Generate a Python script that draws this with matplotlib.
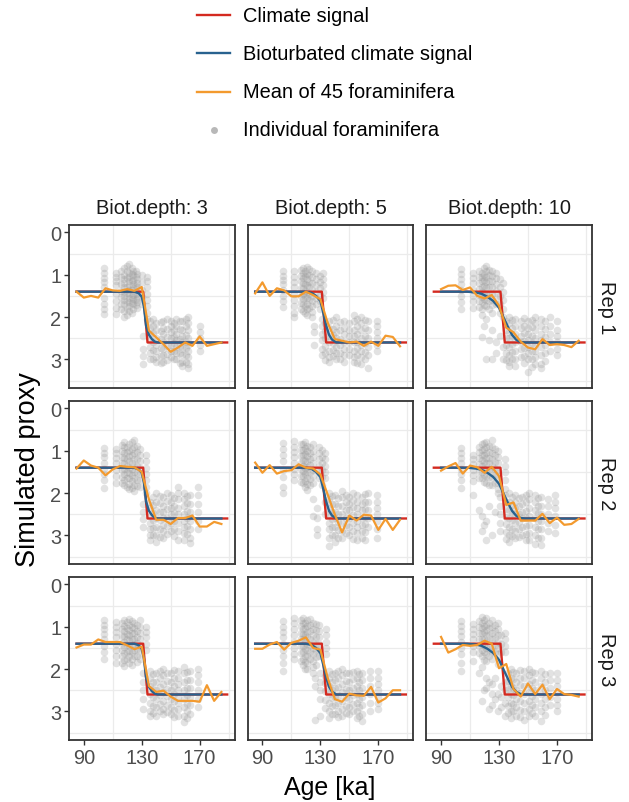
import matplotlib
matplotlib.use("Agg")
import matplotlib.pyplot as plt
from matplotlib.lines import Line2D

plt.rcParams['font.family'] = ['Liberation Sans', 'DejaVu Sans']

# ---- data ----
depths = [3, 5, 10]
reps = [1, 2, 3]

climate_age = [85, 131, 134, 189]
climate_val = [1.4, 1.4, 2.6, 2.6]

biot_age_d3 = [85, 125, 128, 130, 131.5, 133, 135, 137, 139, 141, 185]
biot_val_d3 = [1.4, 1.4, 1.44, 1.52, 1.75, 2.2, 2.42, 2.52, 2.58, 2.6, 2.6]
biot_age_d5 = [85, 120, 124, 127, 130, 132, 134, 136, 138, 141, 185]
biot_val_d5 = [1.4, 1.4, 1.43, 1.5, 1.62, 1.9, 2.2, 2.42, 2.53, 2.6, 2.6]
biot_age_d10 = [90, 108, 114, 118, 122, 126, 130, 133, 136, 139, 142, 145, 148, 185]
biot_val_d10 = [1.4, 1.4, 1.42, 1.45, 1.52, 1.62, 1.78, 2.0, 2.22, 2.42, 2.54, 2.59, 2.6, 2.6]

mean_age = [85, 90, 95, 100, 105, 110, 115, 120, 125, 130, 135,
            140, 145, 150, 155, 160, 165, 170, 175, 180, 185]
nan = float('nan')
mean_r1_d3 = [1.40, 1.54, 1.50, 1.54, 1.32, 1.37, 1.38, 1.34, 1.38, 1.29, 2.32,
              2.48, 2.64, 2.82, 2.72, 2.60, 2.68, 2.46, 2.68, 2.64, 2.60]
mean_r1_d5 = [1.44, 1.18, 1.50, 1.32, 1.37, 1.51, 1.51, 1.40, 1.48, 1.58, 2.13,
              2.52, 2.56, 2.60, 2.58, 2.68, 2.58, 2.68, 2.44, 2.47, 2.69]
mean_r1_d10 = [nan, 1.34, 1.26, 1.25, 1.36, 1.30, 1.50, 1.56, 1.48, 1.73, 2.25,
               2.36, 2.58, 2.72, 2.76, 2.52, 2.66, 2.64, 2.66, 2.71, 2.56]
mean_r2_d3 = [1.42, 1.23, 1.35, 1.40, 1.58, 1.44, 1.36, 1.38, 1.39, 1.50, 2.15,
              2.63, 2.63, 2.73, 2.59, 2.59, 2.53, 2.79, 2.79, 2.68, 2.73]
mean_r2_d5 = [1.28, 1.52, 1.34, 1.54, 1.48, 1.46, 1.32, 1.40, 1.42, 1.56, 2.03,
              2.51, 2.93, 2.53, 2.65, 2.51, 2.53, 2.87, 2.61, 2.87, 2.63]
mean_r2_d10 = [nan, 1.47, 1.37, 1.29, 1.54, 1.35, 1.39, 1.52, 1.38, 1.60, 2.28,
               2.22, 2.65, 2.65, 2.65, 2.49, 2.71, 2.58, 2.75, 2.73, 2.61]
mean_r3_d3 = [1.49, 1.42, 1.42, 1.30, 1.36, 1.36, 1.36, 1.44, 1.53, 1.47, 2.40,
              2.54, 2.51, 2.65, 2.75, 2.75, 2.75, 2.77, 2.38, 2.75, 2.54]
mean_r3_d5 = [1.52, 1.52, 1.42, 1.36, 1.54, 1.38, 1.33, 1.25, 1.50, 1.54, 2.20,
              2.71, 2.77, 2.58, 2.62, 2.63, 2.42, 2.79, 2.69, 2.50, 2.50]
mean_r3_d10 = [nan, 1.24, 1.61, 1.53, 1.43, 1.45, 1.43, 1.33, 1.40, 1.98, 1.88,
               2.47, 2.65, 2.34, 2.59, 2.37, 2.71, 2.47, 2.59, 2.61, 2.65]

# individual foraminifera: (age, [proxy values])
fora_r1_d3 = [
    (104, [0.85, 0.97, 1.08, 1.18, 1.30, 1.55, 1.68, 1.80, 1.92]),
    (112, [0.95, 1.05, 1.15, 1.25, 1.45, 1.62, 1.78, 1.92]),
    (116, [0.9, 1.05, 1.22, 1.38, 1.52, 1.68, 1.82]),
    (118, [0.85, 1.0, 1.1, 1.2, 1.3, 1.4, 1.5, 1.6, 1.7, 1.85, 2.0]),
    (119.5, [0.8, 0.92, 1.08, 1.28, 1.44, 1.62, 1.78, 1.95]),
    (121, [0.75, 0.95, 1.05, 1.15, 1.25, 1.35, 1.45, 1.55, 1.65, 1.75, 1.85]),
    (123, [0.85, 0.98, 1.15, 1.35, 1.52, 1.66, 1.9]),
    (124, [0.9, 1.0, 1.12, 1.22, 1.32, 1.48, 1.58, 1.7, 1.8]),
    (126, [0.92, 1.06, 1.26, 1.45, 1.6, 1.72]),
    (127, [0.98, 1.1, 1.2, 1.3, 1.42, 1.55, 1.65, 1.78]),
    (130, [1.0, 1.18, 1.36, 1.52, 1.68]),
    (133.5, [1.05, 1.15, 1.3, 1.45, 1.6, 1.75, 1.9, 2.05]),
    (131, [2.45, 2.75, 2.92, 3.1]),
    (136, [2.1, 2.25, 2.4, 2.55, 2.7, 2.85, 3.0]),
    (138, [2.05, 2.2, 2.38, 2.58, 2.78, 2.98]),
    (140, [2.15, 2.3, 2.5, 2.65, 2.8, 2.95, 3.05]),
    (143, [2.12, 2.32, 2.52, 2.72, 2.92, 3.08]),
    (145, [2.1, 2.25, 2.4, 2.6, 2.75, 2.9, 3.05]),
    (147.5, [2.05, 2.28, 2.48, 2.68, 2.88, 3.02]),
    (150, [2.1, 2.2, 2.35, 2.5, 2.65, 2.8, 2.95]),
    (152, [2.15, 2.3, 2.48, 2.62, 2.8, 2.98]),
    (154, [2.05, 2.2, 2.4, 2.55, 2.7, 2.85, 3.0]),
    (156.5, [2.1, 2.28, 2.52, 2.68, 2.86, 3.08]),
    (158, [2.1, 2.3, 2.45, 2.6, 2.75, 2.9, 3.05, 3.15]),
    (160.5, [2.05, 2.22, 2.42, 2.58, 2.72, 2.9, 3.05]),
    (162, [2.0, 2.15, 2.3, 2.5, 2.65, 2.8, 2.95, 3.1, 3.2]),
    (170, [2.2, 2.35, 2.5, 2.65, 2.8]),
]
fora_r1_d5 = [
    (104, [0.92, 1.02, 1.12, 1.22, 1.35, 1.5, 1.62, 1.76]),
    (112, [0.92, 1.05, 1.18, 1.3, 1.45, 1.6, 1.75, 1.9, 2.0]),
    (116.5, [0.88, 1.02, 1.15, 1.32, 1.5, 1.66, 1.8]),
    (118, [0.85, 0.95, 1.08, 1.2, 1.32, 1.45, 1.58, 1.7, 1.85]),
    (119.5, [0.9, 1.04, 1.22, 1.38, 1.52, 1.74, 1.9]),
    (121, [0.82, 0.98, 1.1, 1.25, 1.4, 1.55, 1.68, 1.8, 1.95]),
    (122.5, [0.86, 1.0, 1.16, 1.3, 1.46, 1.6, 1.78]),
    (124, [0.9, 1.05, 1.2, 1.35, 1.5, 1.62, 1.75, 1.88, 2.0]),
    (127, [0.95, 1.1, 1.25, 1.4, 1.55, 1.7]),
    (125.5, [2.2, 2.36, 2.66]),
    (129.5, [1.02, 1.18, 1.32, 1.48, 1.62, 1.8]),
    (132, [0.95, 1.1, 1.25, 1.4, 1.55]),
    (131, [2.05, 2.2, 2.4, 2.55, 2.75, 2.9]),
    (133.5, [2.15, 2.32, 2.5, 2.68, 2.85, 3.02]),
    (136, [2.1, 2.25, 2.45, 2.6, 2.8, 2.95, 3.05]),
    (138.5, [2.08, 2.28, 2.42, 2.62, 2.78, 2.92]),
    (141, [2.0, 2.2, 2.35, 2.5, 2.7, 2.85, 3.0]),
    (143.5, [2.12, 2.3, 2.52, 2.66, 2.86, 3.0]),
    (146, [2.1, 2.25, 2.4, 2.6, 2.75, 2.9, 3.05]),
    (150, [2.15, 2.3, 2.45, 2.6, 2.75, 2.9]),
    (153, [1.95, 2.1, 2.3, 2.45, 2.6, 2.8, 2.95, 3.05]),
    (155.5, [2.05, 2.22, 2.4, 2.58, 2.74, 2.9, 3.08]),
    (158, [2.0, 2.15, 2.3, 2.5, 2.65, 2.8, 2.95, 3.1]),
    (160.5, [2.08, 2.26, 2.44, 2.62, 2.82, 3.0]),
    (163, [2.1, 2.3, 2.5, 2.7, 2.9, 3.2]),
    (169, [2.1, 2.2, 2.35, 2.5, 2.65, 2.8]),
]
fora_r1_d10 = [
    (104, [0.87, 0.98, 1.1, 1.22, 1.35, 1.5, 1.65, 1.8]),
    (112, [0.95, 1.08, 1.2, 1.35, 1.5, 1.62, 1.78]),
    (116.5, [0.92, 1.06, 1.2, 1.34, 1.48, 1.62, 1.76]),
    (118, [0.95, 1.05, 1.15, 1.28, 1.4, 1.52, 1.65, 1.8, 1.95, 2.48]),
    (119.5, [0.85, 1.0, 1.12, 1.26, 1.42, 1.58, 1.72, 2.2]),
    (121, [0.8, 0.92, 1.05, 1.18, 1.3, 1.45, 1.6, 1.75, 2.05, 3.0]),
    (123, [0.88, 1.0, 1.14, 1.3, 1.46, 1.62, 1.8, 2.55]),
    (125, [0.9, 1.02, 1.15, 1.3, 1.45, 1.6, 1.72, 1.9, 2.3, 3.0]),
    (128, [0.95, 1.08, 1.22, 1.38, 1.55, 1.7, 2.6, 2.85]),
    (130.5, [1.1, 1.3, 1.5, 1.7, 1.9, 2.45]),
    (133, [1.2, 1.4, 1.6, 1.8, 2.0, 2.7, 3.0]),
    (135, [2.1, 2.3, 2.5, 2.66, 2.84, 3.02]),
    (137, [2.0, 2.15, 2.35, 2.5, 2.7, 2.9, 3.05, 3.15]),
    (139, [2.08, 2.26, 2.44, 2.64, 2.82, 2.98]),
    (141, [2.05, 2.2, 2.4, 2.6, 2.8, 3.0, 3.15]),
    (145, [2.1, 2.25, 2.45, 2.6, 2.75, 2.95]),
    (147.5, [2.02, 2.2, 2.38, 2.56, 2.74, 2.92, 3.08]),
    (150, [2.1, 2.25, 2.4, 2.55, 2.7, 2.85, 3.0, 3.3]),
    (152.5, [2.08, 2.24, 2.44, 2.62, 2.8, 3.0, 3.18]),
    (155, [2.0, 2.15, 2.3, 2.5, 2.65, 2.8, 2.95, 3.1]),
    (159, [2.05, 2.2, 2.4, 2.55, 2.7, 2.9, 3.1, 3.2]),
    (161.5, [2.1, 2.28, 2.46, 2.66, 2.86, 3.04]),
    (165, [2.0, 2.2, 2.4, 2.6, 2.8]),
    (170, [2.1, 2.3, 2.45, 2.6, 2.75, 2.9]),
]
fora_r2_d3 = [
    (104, [0.93, 1.05, 1.15, 1.28, 1.42, 1.55, 1.7, 1.88]),
    (112, [0.95, 1.05, 1.18, 1.3, 1.45, 1.6, 1.75]),
    (116.5, [0.86, 1.0, 1.14, 1.3, 1.46, 1.62, 1.76]),
    (118, [0.8, 0.92, 1.05, 1.18, 1.3, 1.42, 1.55, 1.68, 1.8]),
    (119.5, [0.9, 1.02, 1.2, 1.36, 1.5, 1.64, 1.85]),
    (121, [0.85, 1.0, 1.12, 1.25, 1.4, 1.52, 1.65, 1.78, 1.9]),
    (123, [0.8, 0.96, 1.1, 1.28, 1.44, 1.58, 1.72, 1.88]),
    (125, [0.75, 0.9, 1.05, 1.2, 1.35, 1.5, 1.65, 1.8, 1.95]),
    (127, [0.88, 1.04, 1.2, 1.36, 1.52, 1.68, 1.84]),
    (129, [0.95, 1.1, 1.25, 1.4, 1.55, 1.7, 1.85]),
    (133, [1.1, 1.25, 1.4, 1.55, 1.7, 1.85, 1.99]),
    (131, [2.25, 2.45, 2.62, 2.8]),
    (136, [2.2, 2.35, 2.55, 2.7, 2.85, 3.0, 3.1]),
    (138, [2.1, 2.28, 2.46, 2.64, 2.82, 3.0]),
    (140, [2.0, 2.2, 2.4, 2.6, 2.8, 3.0, 3.15]),
    (142.5, [2.06, 2.24, 2.44, 2.64, 2.84, 3.04]),
    (145, [2.1, 2.3, 2.45, 2.6, 2.75, 2.9, 3.05]),
    (147.5, [2.0, 2.18, 2.38, 2.58, 2.78, 2.96]),
    (150, [2.05, 2.2, 2.35, 2.5, 2.7, 2.9]),
    (152.5, [2.12, 2.3, 2.48, 2.66, 2.84, 3.02]),
    (155, [1.85, 2.0, 2.15, 2.35, 2.5, 2.7, 2.9, 3.1]),
    (159, [2.0, 2.15, 2.3, 2.5, 2.65, 2.8, 2.95, 3.1]),
    (161, [2.08, 2.24, 2.42, 2.6, 2.78, 2.96]),
    (163, [2.05, 2.25, 2.45, 2.65, 2.85, 3.05, 3.18]),
    (169, [1.85, 2.05, 2.25, 2.45, 2.65, 2.85]),
]
fora_r2_d5 = [
    (104, [0.81, 0.95, 1.1, 1.25, 1.45, 1.62, 1.85, 2.0]),
    (112, [0.78, 0.9, 1.02, 1.15, 1.28, 1.42, 1.55, 1.68]),
    (116.5, [0.84, 0.98, 1.12, 1.28, 1.44, 1.6, 1.74]),
    (118, [0.85, 0.98, 1.1, 1.22, 1.35, 1.48, 1.6, 1.75]),
    (119.5, [0.8, 0.94, 1.08, 1.24, 1.4, 1.56, 1.72, 1.86]),
    (121, [0.88, 1.0, 1.12, 1.25, 1.38, 1.5, 1.65, 1.78, 1.92]),
    (123, [0.92, 1.06, 1.2, 1.34, 1.5, 1.66, 1.82]),
    (125, [0.85, 1.0, 1.15, 1.3, 1.45, 1.6, 1.75, 2.15, 2.55]),
    (129, [0.9, 1.05, 1.2, 1.35, 1.5, 1.65]),
    (131, [0.98, 1.14, 1.3, 1.46, 1.62, 1.8]),
    (133, [1.05, 1.2, 1.35, 1.5, 1.65, 2.2, 2.5]),
    (128, [2.35, 2.6, 2.85, 3.0]),
    (136, [2.0, 2.15, 2.35, 2.5, 2.7, 2.85, 3.05, 3.25]),
    (138, [2.08, 2.26, 2.44, 2.62, 2.8, 2.98]),
    (140, [2.05, 2.25, 2.45, 2.6, 2.8, 3.0, 3.15]),
    (142.5, [2.12, 2.3, 2.5, 2.68, 2.88, 3.06]),
    (145, [1.95, 2.1, 2.3, 2.5, 2.7, 2.9, 3.05]),
    (147.5, [2.04, 2.22, 2.4, 2.58, 2.76, 2.94]),
    (150, [2.1, 2.25, 2.4, 2.6, 2.8, 3.0]),
    (152.5, [2.0, 2.16, 2.34, 2.52, 2.7, 2.9, 3.08]),
    (155, [2.05, 2.2, 2.35, 2.5, 2.65, 2.8, 2.95, 3.1]),
    (159, [2.1, 2.25, 2.4, 2.6, 2.75, 2.9, 3.05]),
    (161, [2.02, 2.2, 2.38, 2.56, 2.74, 2.92, 3.1]),
    (163, [2.0, 2.2, 2.4, 2.6, 2.8]),
    (169, [2.05, 2.2, 2.35, 2.5, 2.65, 2.85, 3.05]),
]
fora_r2_d10 = [
    (104, [0.93, 1.05, 1.18, 1.3, 1.42, 1.55, 1.7, 1.88]),
    (112, [1.09, 1.2, 1.32, 1.45, 1.58, 1.72, 2.04]),
    (116.5, [0.9, 1.04, 1.18, 1.32, 1.48, 1.64, 2.4]),
    (118, [0.85, 0.98, 1.1, 1.22, 1.35, 1.5, 1.65, 2.55, 2.9]),
    (119.5, [0.82, 0.96, 1.1, 1.26, 1.42, 1.58, 1.74, 2.75]),
    (121, [0.8, 0.92, 1.05, 1.18, 1.3, 1.45, 1.6, 1.75, 2.65, 3.1]),
    (123, [0.88, 1.02, 1.16, 1.3, 1.46, 1.62, 1.8, 2.3]),
    (125, [0.75, 0.9, 1.05, 1.2, 1.35, 1.5, 1.65, 1.8, 3.0]),
    (127, [0.96, 1.1, 1.26, 1.42, 1.58, 1.76, 2.45]),
    (129, [1.0, 1.15, 1.3, 1.45, 1.6, 1.75, 1.9, 2.0]),
    (134, [1.2, 1.35, 1.5, 1.7, 1.9, 2.05]),
    (131, [2.1, 2.3, 2.5, 2.7, 2.9]),
    (135, [2.2, 2.38, 2.56, 2.74, 2.92, 3.08]),
    (137, [2.0, 2.2, 2.4, 2.6, 2.8, 3.0, 3.15]),
    (139, [2.1, 2.28, 2.46, 2.64, 2.84, 3.02]),
    (141, [2.05, 2.2, 2.35, 2.5, 2.7, 2.9, 3.05]),
    (143.5, [2.12, 2.3, 2.5, 2.68, 2.86, 3.04]),
    (146, [2.1, 2.25, 2.45, 2.6, 2.8, 3.0]),
    (148.5, [2.04, 2.22, 2.42, 2.6, 2.78, 2.96, 3.12]),
    (151, [2.0, 2.15, 2.35, 2.55, 2.75, 2.95, 3.1]),
    (155, [2.05, 2.2, 2.4, 2.6, 2.8, 3.0, 3.2]),
    (157, [2.12, 2.3, 2.48, 2.66, 2.86, 3.06]),
    (159, [2.1, 2.3, 2.5, 2.65, 2.85, 3.05, 3.22]),
    (164, [2.15, 2.3, 2.5, 2.7, 2.9]),
    (169, [2.05, 2.2, 2.35, 2.55, 2.75, 2.95]),
]
fora_r3_d3 = [
    (104, [0.83, 0.95, 1.05, 1.18, 1.3, 1.45, 1.6, 1.77]),
    (112, [0.88, 1.0, 1.12, 1.25, 1.4, 1.55, 1.7, 1.85]),
    (116.5, [0.92, 1.06, 1.22, 1.38, 1.54, 1.7, 1.86]),
    (118, [0.85, 0.98, 1.1, 1.22, 1.35, 1.48, 1.62, 1.78, 1.93]),
    (119.5, [0.88, 1.02, 1.16, 1.3, 1.44, 1.6, 1.76]),
    (121, [0.82, 0.95, 1.08, 1.2, 1.32, 1.45, 1.58, 1.7, 1.85]),
    (123, [0.86, 1.0, 1.14, 1.28, 1.44, 1.6, 1.76, 1.9]),
    (125, [0.9, 1.02, 1.15, 1.28, 1.4, 1.55, 1.7]),
    (127, [0.95, 1.1, 1.24, 1.38, 1.52, 1.68, 1.84]),
    (129, [0.85, 1.0, 1.15, 1.3, 1.45, 1.6, 1.75]),
    (133, [1.0, 1.12, 1.25, 1.4, 1.55]),
    (131, [2.1, 2.3, 2.5, 2.7, 2.95]),
    (136, [2.05, 2.2, 2.4, 2.6, 2.8, 3.0, 3.1]),
    (138, [2.12, 2.3, 2.48, 2.66, 2.86, 3.04]),
    (140, [2.1, 2.3, 2.5, 2.7, 2.9, 3.1]),
    (142.5, [2.04, 2.22, 2.42, 2.62, 2.82, 3.0]),
    (145, [2.0, 2.15, 2.35, 2.55, 2.75, 2.95, 3.05]),
    (147.5, [2.1, 2.28, 2.46, 2.64, 2.84, 3.02]),
    (150, [2.1, 2.3, 2.5, 2.7, 2.9, 3.05]),
    (152.5, [2.02, 2.2, 2.4, 2.58, 2.76, 2.96, 3.14]),
    (155, [2.05, 2.2, 2.35, 2.5, 2.65, 2.8, 2.95, 3.1]),
    (159, [1.95, 2.1, 2.3, 2.5, 2.7, 2.9, 3.1, 3.26]),
    (161, [2.08, 2.26, 2.44, 2.62, 2.82, 3.0, 3.16]),
    (163, [2.05, 2.25, 2.45, 2.65, 2.85, 3.05]),
    (169, [2.0, 2.15, 2.3, 2.5, 2.7, 2.9]),
]
fora_r3_d5 = [
    (104, [0.87, 1.0, 1.12, 1.25, 1.4, 1.55, 1.7, 1.85, 2.05]),
    (112, [0.8, 0.92, 1.05, 1.2, 1.35, 1.5, 1.65, 1.77]),
    (116.5, [0.84, 0.98, 1.14, 1.3, 1.46, 1.62, 1.8]),
    (118, [0.8, 0.92, 1.05, 1.18, 1.3, 1.45, 1.6, 1.75, 1.9]),
    (119.5, [0.9, 1.04, 1.2, 1.36, 1.52, 1.68, 1.84, 2.0]),
    (121, [0.85, 0.98, 1.12, 1.25, 1.4, 1.55, 1.7, 1.85, 2.0]),
    (123, [0.82, 0.96, 1.1, 1.28, 1.44, 1.6, 1.76]),
    (125, [0.9, 1.05, 1.2, 1.35, 1.5, 1.65, 1.8, 1.95, 2.09]),
    (127, [0.94, 1.08, 1.24, 1.4, 1.56, 1.72, 1.9]),
    (129, [0.95, 1.1, 1.25, 1.4, 1.55, 1.7]),
    (134, [1.05, 1.2, 1.35, 1.5, 1.65]),
    (126, [2.2, 2.4, 3.2]),
    (130, [2.1, 2.3, 2.5, 2.7, 3.1]),
    (133, [2.16, 2.34, 2.52, 2.72, 2.92]),
    (136, [2.05, 2.2, 2.4, 2.6, 2.8, 3.0, 3.15]),
    (138, [2.12, 2.3, 2.5, 2.68, 2.88, 3.06]),
    (140, [2.1, 2.25, 2.45, 2.65, 2.85, 3.05]),
    (142.5, [2.04, 2.22, 2.42, 2.62, 2.8, 2.98, 3.14]),
    (145, [2.0, 2.15, 2.35, 2.55, 2.75, 2.95, 3.1]),
    (147.5, [2.1, 2.28, 2.46, 2.66, 2.86, 3.04]),
    (150, [2.1, 2.3, 2.5, 2.7, 2.9, 3.05]),
    (152.5, [2.06, 2.24, 2.44, 2.62, 2.82, 3.0]),
    (155, [2.05, 2.2, 2.4, 2.6, 2.8, 3.0, 3.15]),
    (157, [2.12, 2.3, 2.5, 2.7, 2.9, 3.1]),
    (159, [2.1, 2.25, 2.45, 2.65, 2.85, 3.05, 3.22]),
    (164, [2.05, 2.2, 2.4, 2.6, 2.8, 3.0]),
    (170, [2.05, 2.2, 2.35, 2.5, 2.65, 2.8, 2.95]),
]
fora_r3_d10 = [
    (104, [0.86, 0.98, 1.1, 1.22, 1.35, 1.5, 1.65, 1.85, 2.04]),
    (112, [0.94, 1.05, 1.18, 1.3, 1.45, 1.6, 1.81]),
    (116.5, [0.86, 1.0, 1.14, 1.3, 1.46, 1.62, 2.1]),
    (118, [0.78, 0.9, 1.02, 1.15, 1.28, 1.4, 1.55, 1.7, 1.95, 2.75]),
    (119.5, [0.84, 0.98, 1.12, 1.28, 1.44, 1.6, 1.78, 2.5]),
    (121, [0.8, 0.95, 1.08, 1.2, 1.35, 1.5, 1.65, 1.8, 2.2, 2.45]),
    (123, [0.9, 1.04, 1.2, 1.36, 1.52, 1.7, 2.3, 2.95]),
    (125, [0.85, 1.0, 1.15, 1.3, 1.45, 1.6, 1.75, 2.35, 2.6, 2.85]),
    (127, [0.95, 1.1, 1.26, 1.42, 1.6, 2.2, 2.7]),
    (129, [0.9, 1.05, 1.2, 1.35, 1.5, 1.65, 1.88, 2.6, 3.0]),
    (131.5, [1.2, 1.4, 1.6, 2.4, 2.66, 2.9]),
    (134, [1.15, 1.3, 1.45, 1.6, 2.3, 2.5, 2.8, 3.1]),
    (136, [2.1, 2.28, 2.46, 2.66, 2.86, 3.04]),
    (138, [2.0, 2.2, 2.4, 2.6, 2.8, 3.0, 3.15]),
    (140, [2.06, 2.24, 2.44, 2.62, 2.82, 3.0]),
    (142, [2.1, 2.3, 2.5, 2.7, 2.9, 3.1]),
    (144.5, [2.02, 2.2, 2.38, 2.56, 2.76, 2.96, 3.12]),
    (147, [2.05, 2.2, 2.4, 2.6, 2.8, 3.0, 3.2]),
    (151, [2.0, 2.15, 2.35, 2.55, 2.75, 2.95, 3.1]),
    (153, [2.08, 2.26, 2.44, 2.64, 2.84, 3.04]),
    (155, [2.1, 2.3, 2.5, 2.7, 2.9, 3.1]),
    (159, [2.05, 2.2, 2.4, 2.6, 2.8, 3.0, 3.22]),
    (161.5, [2.12, 2.3, 2.5, 2.7, 2.9, 3.08]),
    (165, [2.1, 2.25, 2.45, 2.65, 2.85]),
    (170, [2.1, 2.25, 2.4, 2.55, 2.7, 2.85, 3.0]),
]

biot = {3: (biot_age_d3, biot_val_d3), 5: (biot_age_d5, biot_val_d5),
        10: (biot_age_d10, biot_val_d10)}
means = {(1, 3): mean_r1_d3, (1, 5): mean_r1_d5, (1, 10): mean_r1_d10,
         (2, 3): mean_r2_d3, (2, 5): mean_r2_d5, (2, 10): mean_r2_d10,
         (3, 3): mean_r3_d3, (3, 5): mean_r3_d5, (3, 10): mean_r3_d10}
foras = {(1, 3): fora_r1_d3, (1, 5): fora_r1_d5, (1, 10): fora_r1_d10,
         (2, 3): fora_r2_d3, (2, 5): fora_r2_d5, (2, 10): fora_r2_d10,
         (3, 3): fora_r3_d3, (3, 5): fora_r3_d5, (3, 10): fora_r3_d10}

RED = '#D42A20'
BLUE = '#28628F'
ORANGE = '#F39A2E'
W, H = 629, 803

fig, axes = plt.subplots(3, 3, figsize=(W / 100, H / 100), dpi=100,
                         sharex=True, sharey=True)
fig.subplots_adjust(left=69 / W, right=592 / W, top=1 - 226 / H,
                    bottom=1 - 741 / H, wspace=0.078, hspace=0.08)

for i, rep in enumerate(reps):
    for j, d in enumerate(depths):
        ax = axes[i, j]
        xs, ys = [], []
        for age, vals in foras[(rep, d)]:
            xs += [age] * len(vals)
            ys += vals
        ax.scatter(xs, ys, s=30, color='#9A9A9A', alpha=0.28, linewidths=0,
                   zorder=2)
        ax.plot(climate_age, climate_val, color=RED, lw=1.7, zorder=3,
                solid_joinstyle='round')
        ax.plot(biot[d][0], biot[d][1], color=BLUE, lw=1.7, zorder=4)
        ax.plot(mean_age, means[(rep, d)], color=ORANGE, lw=1.6, zorder=5)

        ax.set_xlim(79.8, 194.2)
        ax.set_ylim(3.675, -0.175)
        ax.set_xticks([90, 130, 170])
        ax.set_yticks([0, 1, 2, 3])
        ax.set_xticks([110, 150, 190], minor=True)
        ax.set_yticks([0.5, 1.5, 2.5, 3.5], minor=True)
        ax.grid(False)
        ax.grid(which='minor', color='#EBEBEB', lw=0.9)
        ax.set_axisbelow(True)
        ax.tick_params(which='minor', length=0)
        ax.tick_params(which='major', length=3.6, width=1.0, color='#333333',
                       labelsize=14.4, labelcolor='#4D4D4D', pad=2)
        if j > 0:
            ax.tick_params(axis='y', which='major', length=0)
        if i < 2:
            ax.tick_params(axis='x', which='major', length=0)
        for sp in ax.spines.values():
            sp.set_color('#333333')
            sp.set_linewidth(1.3)
        if i == 0:
            ax.set_title(f"Biot.depth: {d}", fontsize=14.4, color='#1A1A1A',
                         pad=9)
        if j == 2:
            ax.text(1.085, 0.5, f"Rep {rep}", transform=ax.transAxes,
                    rotation=-90, ha='center', va='center', fontsize=14.4,
                    color='#1A1A1A')

fig.text(28 / W, 1 - 470 / H, "Simulated proxy", rotation=90, ha='center',
         va='center', fontsize=19.5)
fig.text(330 / W, 1 - 788 / H, "Age [ka]", ha='center', va='center',
         fontsize=18)

# legend at top
leg_labels = ["Climate signal", "Bioturbated climate signal",
              "Mean of 45 foraminifera", "Individual foraminifera"]
leg_y = [16, 54, 93, 131]
leg_cols = [RED, BLUE, ORANGE]
for k, lab in enumerate(leg_labels):
    yf = 1 - leg_y[k] / H
    if k < 3:
        fig.add_artist(Line2D([197 / W, 230 / W], [yf, yf], color=leg_cols[k],
                              lw=1.7, transform=fig.transFigure))
    else:
        fig.add_artist(Line2D([213.5 / W], [yf], marker='o', ms=5,
                              color='#9A9A9A', alpha=0.7, lw=0,
                              markeredgewidth=0, transform=fig.transFigure))
    fig.text(243 / W, yf, lab, ha='left', va='center', fontsize=14.4,
             color='#000000')

fig.savefig("out.png", dpi=100)
